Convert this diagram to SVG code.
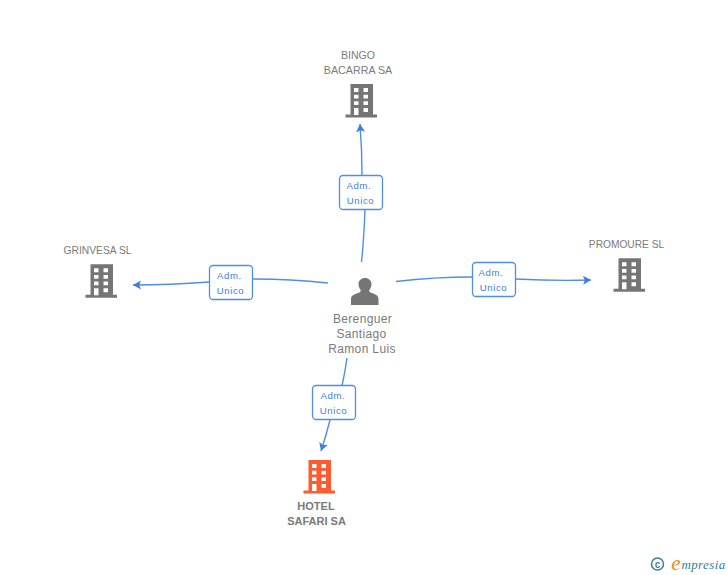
<svg xmlns="http://www.w3.org/2000/svg" width="728" height="575" viewBox="0 0 728 575">
<style>
text{font-family:"Liberation Sans",Arial,sans-serif;text-anchor:middle}
.n{font-size:10.5px;fill:#7a7a7a}
.p{font-size:12px;fill:#7a7a7a;letter-spacing:.35px}
.h{font-size:11px;font-weight:bold;fill:#7a7a7a}
.t{font-size:9.6px;fill:#3c7fe0;letter-spacing:.6px}
.b{fill:#fff;stroke:#4d8fe6;stroke-width:1.3}
.c{fill:none;stroke:#4d8fe6;stroke-width:1.4}
</style>
<defs>
<path id="bld" fill-rule="evenodd" d="M5 0H27.500V30.500H31.500V33.500H0V30.500H5ZM8.500 4V8H13V4ZM18 4V8H22.500V4ZM8.500 10.700V14.500H13V10.700ZM18 10.700V14.500H22.500V10.700ZM8.500 17.300V21H13V17.300ZM18 17.300V21H22.500V17.300ZM18 24V28H22.500V24ZM8.500 24V31H13V24Z"/>
<marker id="ah" markerWidth="10" markerHeight="10" refX="8" refY="4.500" orient="auto" markerUnits="userSpaceOnUse"><path d="M0 0L8 4.500L0 9L1.800 4.500Z" fill="#3c7fe0"/></marker>
</defs>
<g id="connectors">
<path class="c" d="M361.500 262Q364 238 365 209"/>
<path class="c" marker-end="url(#ah)" d="M362 175Q362 150 360 124"/>
<path class="c" d="M328 283Q290 279 253 279"/>
<path class="c" marker-end="url(#ah)" d="M209 282Q170 285 133 285"/>
<path class="c" d="M396 281.500Q435 277 472 277"/>
<path class="c" marker-end="url(#ah)" d="M516 279Q555 281 591 280"/>
<path class="c" d="M347 358Q345 372 342 386"/>
<path class="c" marker-end="url(#ah)" d="M330 420Q326 436 321 451"/>
</g>
<g id="edge-label-bingo"><rect class="b" x="339.500" y="175.500" width="43" height="34" rx="3.500"/><text class="t" x="359" y="189">Adm.</text><text class="t" x="360.500" y="204">Unico</text></g>
<g id="edge-label-grinvesa"><rect class="b" x="209.500" y="265.500" width="43" height="34" rx="3.500"/><text class="t" x="229.500" y="279">Adm.</text><text class="t" x="230.500" y="294">Unico</text></g>
<g id="edge-label-promoure"><rect class="b" x="472.500" y="262.500" width="43" height="34" rx="3.500"/><text class="t" x="491" y="276">Adm.</text><text class="t" x="493.500" y="291">Unico</text></g>
<g id="edge-label-hotel"><rect class="b" x="312.500" y="385.500" width="43" height="34" rx="3.500"/><text class="t" x="333" y="399">Adm.</text><text class="t" x="333.500" y="414">Unico</text></g>
<g id="node-bingo"><text class="n" x="358" y="59">BINGO</text><text class="n" x="358" y="74" style="font-size:10.700px">BACARRA SA</text><use href="#bld" x="345.500" y="84" fill="#757575"/></g>
<g id="node-grinvesa"><text class="n" x="97.500" y="254" style="font-size:10.300px">GRINVESA SL</text><use href="#bld" x="85.500" y="264.300" fill="#757575"/></g>
<g id="node-promoure"><text class="n" x="626.500" y="248" style="font-size:10.200px">PROMOURE SL</text><use href="#bld" x="613.500" y="258.300" fill="#757575"/></g>
<g id="node-person">
<path fill="#757575" d="M351 305V299C351 295 355.500 294 359.500 292.500C360.800 291.800 361 290.500 360.300 289.500C358.800 287.500 358.500 285.500 358.500 284C358.500 280.500 361.500 278 365 278C368.500 278 371.500 280.500 371.500 284C371.500 285.500 371.200 287.500 369.700 289.500C369 290.500 369.200 291.800 370.500 292.500C374.500 294 378.500 295 378.500 299V305Z"/>
<text class="p" x="362.500" y="323">Berenguer</text><text class="p" x="361.500" y="338">Santiago</text><text class="p" x="362" y="353">Ramon Luis</text>
</g>
<g id="node-hotel"><use href="#bld" x="303.500" y="460" fill="#ff5a30"/><text class="h" x="316" y="510">HOTEL</text><text class="h" x="316.500" y="525">SAFARI SA</text></g>
<g id="logo">
<circle cx="657.500" cy="564" r="6" fill="none" stroke="#3f7f96" stroke-width="1.500"/>
<text x="657.500" y="567.500" style="font-size:10px;font-weight:bold;fill:#3f7f96">c</text>
<text x="676" y="569.500" style="font-family:'Liberation Serif',serif;font-style:italic;font-size:21px;fill:#f08a1d">e</text>
<text x="703.500" y="569" style="font-family:'Liberation Serif',serif;font-style:italic;font-size:13px;letter-spacing:.4px;fill:#2f7f9a">mpresia</text>
</g>
</svg>
